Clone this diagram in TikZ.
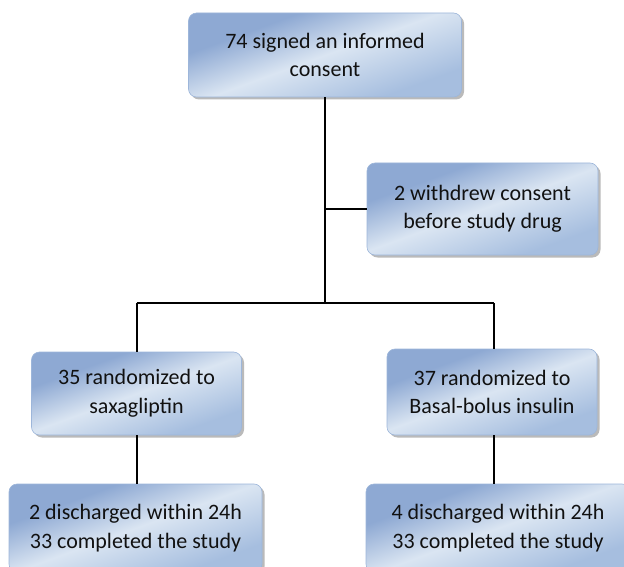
\documentclass[tikz,border=0pt]{standalone}
\usepackage{fontspec}
\setmainfont{Carlito}
\usetikzlibrary{shadows}
\definecolor{bdark}{HTML}{8EA9D3}
\definecolor{blight}{HTML}{DAE5F2}
\definecolor{bmid}{HTML}{A6BEDF}
\definecolor{bedge}{HTML}{9DB6DA}
\definecolor{txt}{HTML}{111111}
\pgfdeclareverticalshading{boxshade}{100bp}{color(0bp)=(bmid); color(28bp)=(bmid); color(50bp)=(blight); color(68bp)=(bdark); color(100bp)=(bdark)}
\tikzset{
  flowbox/.style={rectangle, rounded corners=8pt, draw=bedge, line width=0.6pt,
    shading=boxshade, shading angle=20, align=center, text=txt,
    font=\fontsize{22}{28.5}\selectfont, inner sep=0pt,
    drop shadow={shadow xshift=2.5pt, shadow yshift=-2.5pt, fill=black!45, opacity=0.6}},
  link/.style={line width=2pt, black}
}
\begin{document}
\begin{tikzpicture}[x=1pt,y=-1pt]
\useasboundingbox (0,0) rectangle (624,567);
\clip (0,0) rectangle (624,567);
\node[flowbox, minimum width=273pt, minimum height=84pt] (top) at (325,55) {74 signed an informed\\consent};
\node[flowbox, minimum width=231pt, minimum height=92pt] (wd) at (482.5,209) {2 withdrew consent\\before study drug};
\node[flowbox, minimum width=210pt, minimum height=83pt] (left) at (136.5,393.5) {35 randomized to\\saxagliptin};
\node[flowbox, minimum width=210pt, minimum height=86pt] (right) at (492,392) {37 randomized to\\Basal-bolus insulin};
\node[flowbox, minimum width=253pt, minimum height=88pt] (bl) at (135.5,528) {2 discharged within 24h\\33 completed the study};
\node[flowbox, minimum width=264pt, minimum height=88pt] (br) at (498,528) {4 discharged within 24h\\33 completed the study};
\coordinate (jc) at (325,303);
\coordinate (jl) at (136.5,303);
\coordinate (jr) at (494,303);
\draw[link] (top.south) -- (jc);
\draw[link] (top.south |- wd.west) -- (wd.west);
\draw[link] (jl) -- (jr);
\draw[link] (jl) -- (left.north);
\draw[link] (jr) -- (jr |- right.north);
\draw[link] (left.south) -- (left.south |- bl.north);
\draw[link] (jr |- right.south) -- (jr |- br.north);
\end{tikzpicture}
\end{document}
